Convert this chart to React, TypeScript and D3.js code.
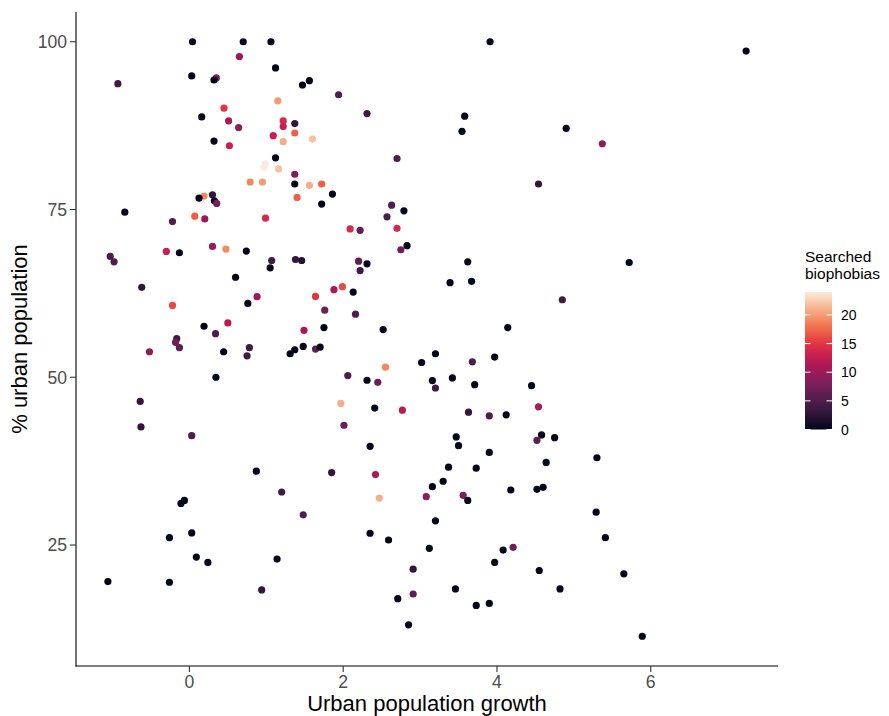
import React from 'react';
import * as d3 from 'd3';

// Urban population growth (x), % urban population (y), searched biophobias (colour)
const growth = [
  0.04, 0.70, 1.06, 0.65, 1.12, 0.03, 0.35, 0.32, -0.93, 1.47,
  1.56, 1.15, 0.45, 0.16, 0.51, 0.64, 1.22, 1.22, 1.37, 1.37,
  1.09, 0.32, 0.52, 1.22, 1.12, 0.99, 0.97, 1.16, 1.37, 1.37,
  0.79, 0.95, 1.40, 0.19, 0.125, 0.30, 0.325, 0.355, -0.84, -0.22,
  0.07, 0.20, 0.99, 3.91, 1.94, 2.31, 3.58, 3.545, 4.90, 1.60,
  2.70, 1.56, 1.72, 1.86, 1.72, 2.63, 2.79, 2.57, 2.09, 2.22,
  2.70, 4.54, 7.24, 5.37, -1.03, -0.98, -0.30, -0.13, 0.30, 0.475,
  0.74, 1.07, 1.05, 1.38, 1.46, -0.62, 0.60, -0.22, 0.76, 0.88,
  0.19, 0.50, 0.34, -0.165, -0.18, -0.13, -0.52, 0.445, 0.78, 0.75,
  1.31, 1.37, 0.345, -0.64, -0.63, 0.03, 2.83, 2.75, 2.20, 2.31,
  2.22, 3.62, 3.39, 3.67, 4.85, 1.88, 1.99, 2.13, 1.64, 1.76,
  2.16, 1.49, 1.75, 2.52, 4.14, 1.48, 1.64, 1.70, 3.20, 3.02,
  3.68, 3.97, 2.55, 2.06, 2.31, 2.45, 3.16, 3.20, 3.42, 3.71,
  4.45, 1.97, 2.41, 2.77, 3.63, 3.90, 4.12, 4.54, 2.01, 2.35,
  3.47, 3.50, 3.90, 4.58, 4.52, 4.75, 4.64, 5.72, 5.30, 0.87,
  1.20, -0.11, -0.065, -0.26, 0.03, 0.09, 0.24, 1.14, -1.06, -0.26,
  0.94, 1.85, 2.42, 2.47, 3.37, 3.73, 3.30, 3.16, 3.08, 3.56,
  3.62, 4.18, 4.52, 4.60, 1.48, 3.20, 2.35, 2.59, 3.12, 4.08,
  4.21, 3.97, 2.91, 4.55, 4.82, 3.46, 2.91, 2.71, 3.73, 3.90,
  2.85, 5.29, 5.41, 5.65, 5.89,
];

const urban = [
  100.0, 100.0, 100.0, 97.8, 96.1, 94.9, 94.6, 94.3, 93.75, 93.55,
  94.2, 91.2, 90.1, 88.8, 88.2, 87.2, 88.2, 87.35, 87.8, 86.4,
  86.0, 85.2, 84.5, 85.1, 82.7, 81.8, 81.3, 81.05, 80.25, 78.8,
  79.1, 79.1, 76.8, 77.0, 76.7, 77.2, 76.3, 75.9, 74.6, 73.2,
  74.0, 73.6, 73.7, 100.0, 92.1, 89.3, 88.9, 86.65, 87.1, 85.5,
  82.6, 78.6, 78.8, 77.3, 75.8, 75.65, 74.8, 73.9, 72.1, 71.9,
  72.2, 78.8, 98.6, 84.8, 68.0, 67.2, 68.75, 68.55, 69.5, 69.1,
  68.8, 67.4, 66.3, 67.55, 67.4, 63.4, 64.9, 60.7, 61.0, 62.0,
  57.6, 58.1, 56.5, 55.75, 55.2, 54.4, 53.8, 53.8, 54.4, 53.2,
  53.5, 54.1, 50.0, 46.4, 42.6, 41.3, 69.6, 69.0, 67.3, 66.9,
  65.9, 67.2, 64.1, 64.3, 61.55, 63.05, 63.5, 62.7, 62.05, 60.0,
  59.4, 57.0, 57.4, 57.1, 57.4, 54.6, 54.2, 54.5, 53.5, 52.2,
  52.3, 53.0, 51.5, 50.25, 49.55, 49.25, 49.5, 48.4, 49.9, 48.9,
  48.75, 46.1, 45.4, 45.1, 44.8, 44.25, 44.4, 45.6, 42.85, 39.7,
  41.1, 39.8, 38.8, 41.4, 40.6, 41.0, 37.3, 67.1, 38.0, 36.0,
  32.9, 31.2, 31.65, 26.1, 26.8, 23.2, 22.4, 22.9, 19.55, 19.45,
  18.3, 35.8, 35.5, 32.0, 36.6, 36.45, 34.5, 33.7, 32.2, 32.4,
  31.65, 33.2, 33.3, 33.6, 29.5, 28.6, 26.75, 25.75, 24.5, 24.25,
  24.65, 22.4, 21.4, 21.2, 18.45, 18.45, 17.7, 17.0, 16.0, 16.3,
  13.1, 29.9, 26.1, 20.7, 11.4,
];

const phobias = [
  0, 0, 0, 10, 0, 0, 8, 0, 4, 0,
  0, 20, 15, 0, 11, 9, 14, 13, 3, 17,
  13, 0, 13, 21, 0, 24, 24, 22, 8, 0,
  19, 20, 17, 19, 0, 3, 0, 8, 0, 5,
  17, 10, 14, 0, 5, 4, 0, 0, 0, 22,
  5, 21, 17, 0, 0, 5, 0, 5, 14, 6,
  14, 3, 0, 9, 5, 5, 13, 0, 10, 19,
  0, 4, 0, 3, 2, 3, 0, 16, 0, 10,
  0, 12, 5, 4, 7, 6, 9, 0, 4, 4,
  0, 0, 0, 3, 3, 5, 0, 7, 6, 0,
  4, 0, 0, 0, 4, 11, 16, 0, 15, 7,
  5, 11, 0, 0, 0, 0, 6, 0, 0, 0,
  5, 0, 19, 5, 0, 7, 0, 4, 0, 0,
  0, 21, 0, 12, 3, 5, 0, 11, 7, 0,
  0, 0, 0, 0, 6, 0, 0, 0, 0, 0,
  4, 0, 0, 0, 0, 0, 0, 0, 0, 0,
  3, 3, 11, 21, 0, 0, 0, 0, 9, 8,
  0, 0, 0, 0, 5, 0, 0, 0, 0, 0,
  7, 0, 3, 0, 0, 0, 6, 0, 0, 0,
  0, 0, 0, 0, 0,
];

const xTicks = [0, 2, 4, 6];
const yTicks = [25, 50, 75, 100];
const legendTicks = [0, 5, 10, 15, 20];
const legendTitle = ['Searched', 'biophobias'];
const xTitle = 'Urban population growth';
const yTitle = '% urban population';

const rocketStops = [
  '#03051A', '#2A1636', '#4C1D4B', '#6F1F57', '#951C5B', '#BA1656',
  '#DC2947', '#EF5A41', '#F48B5F', '#F6BA97', '#FAEBDD',
];

const FONT = '"Liberation Sans", Arial, Helvetica, sans-serif';

export default function App() {
  const W = 889;
  const H = 716;
  const panel = { left: 76, right: 778, top: 12, bottom: 666 };

  const expand = (ext: [number, number]) => {
    const pad = (ext[1] - ext[0]) * 0.05;
    return [ext[0] - pad, ext[1] + pad];
  };
  const xExt = d3.extent(growth) as [number, number];
  const yExt = d3.extent(urban) as [number, number];
  const x = d3.scaleLinear().domain(expand(xExt)).range([panel.left, panel.right]);
  const y = d3.scaleLinear().domain(expand(yExt)).range([panel.bottom, panel.top]);

  const cMax = d3.max(phobias) as number;
  const interp = d3.interpolateRgbBasis(rocketStops);
  const color = d3.scaleSequential(interp).domain([0, cMax]);

  const bar = { x: 805, w: 27, top: 292, bottom: 429.5 };
  const ly = d3.scaleLinear().domain([0, cMax]).range([bar.bottom, bar.top]);
  const gradStops = d3.range(0, 1.0001, 0.05);

  const points = growth.map((g, i) => ({ g, u: urban[i], c: phobias[i] }));

  return (
    <svg
      width={W}
      height={H}
      style={{ position: 'absolute', left: 0, top: 0, background: '#fff' }}
      fontFamily={FONT}
    >
      <defs>
        <linearGradient id="rocketGrad" x1="0" y1="1" x2="0" y2="0">
          {gradStops.map((t) => (
            <stop key={t} offset={`${t * 100}%`} stopColor={interp(t)} />
          ))}
        </linearGradient>
      </defs>
      <rect x={0} y={0} width={W} height={H} fill="#fff" />

      {points.map((p, i) => (
        <circle key={i} cx={x(p.g)} cy={y(p.u)} r={3.6} fill={color(p.c)} />
      ))}

      {/* axes */}
      <line x1={panel.left} x2={panel.left} y1={panel.top} y2={panel.bottom + 0.5} stroke="#000" strokeWidth={1.1} />
      <line x1={panel.left - 0.5} x2={panel.right} y1={panel.bottom} y2={panel.bottom} stroke="#000" strokeWidth={1.1} />

      {yTicks.map((t) => (
        <g key={`y${t}`}>
          <line x1={panel.left - 6} x2={panel.left} y1={y(t)} y2={y(t)} stroke="#333" strokeWidth={1.1} />
          <text x={panel.left - 9} y={y(t) + 6.3} textAnchor="end" fontSize={17.6} fill="#4D4D4D">
            {t}
          </text>
        </g>
      ))}
      {xTicks.map((t) => (
        <g key={`x${t}`}>
          <line x1={x(t)} x2={x(t)} y1={panel.bottom} y2={panel.bottom + 6} stroke="#333" strokeWidth={1.1} />
          <text x={x(t)} y={688} textAnchor="middle" fontSize={17.6} fill="#4D4D4D">
            {t}
          </text>
        </g>
      ))}

      <text x={(panel.left + panel.right) / 2} y={711} textAnchor="middle" fontSize={22} fill="#000">
        {xTitle}
      </text>
      <text
        transform={`translate(27,${(panel.top + panel.bottom) / 2}) rotate(-90)`}
        textAnchor="middle"
        fontSize={22}
        fill="#000"
      >
        {yTitle}
      </text>

      {/* legend */}
      {legendTitle.map((s, i) => (
        <text key={s} x={805} y={262 + i * 16.5} fontSize={15.5} fill="#000">
          {s}
        </text>
      ))}
      <rect x={bar.x} y={bar.top} width={bar.w} height={bar.bottom - bar.top} fill="url(#rocketGrad)" />
      {legendTicks.map((t) => (
        <g key={`l${t}`}>
          <line x1={bar.x} x2={bar.x + 5.5} y1={ly(t)} y2={ly(t)} stroke="#fff" strokeWidth={1} />
          <line x1={bar.x + bar.w - 5.5} x2={bar.x + bar.w} y1={ly(t)} y2={ly(t)} stroke="#fff" strokeWidth={1} />
          <text x={841} y={ly(t) + 5} fontSize={14} fill="#000">
            {t}
          </text>
        </g>
      ))}
    </svg>
  );
}
